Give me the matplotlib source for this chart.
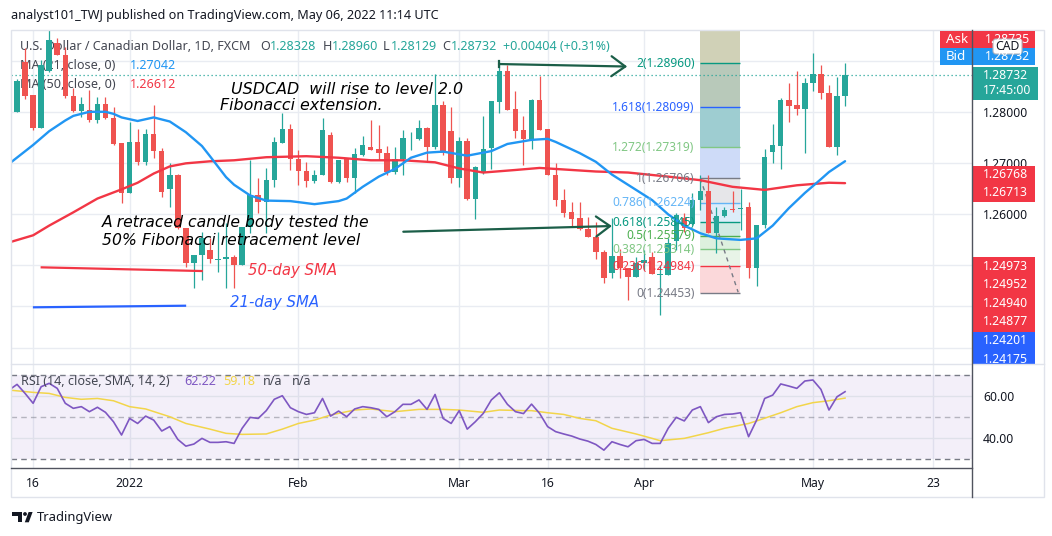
import matplotlib
matplotlib.use('Agg')
import matplotlib.pyplot as plt
import numpy as np
import pandas as pd
from matplotlib.patches import Rectangle, Polygon, FancyBboxPatch, Circle

# ---------------- data ----------------
dates = pd.bdate_range('2021-12-13', periods=105)

opens = [1.2730, 1.2801, 1.2898, 1.2834, 1.2770, 1.2881, 1.2936, 1.2912, 1.2831, 1.2802,
         1.2804, 1.2784, 1.2816, 1.2788, 1.2739, 1.2642, 1.2742, 1.2703, 1.2757, 1.2725,
         1.2649, 1.2677, 1.2573, 1.2505, 1.2520, 1.2531, 1.2511, 1.2512, 1.2517, 1.2501,
         1.2576, 1.2638, 1.2625, 1.2667, 1.2740, 1.2767, 1.2708, 1.2685, 1.2666, 1.2677,
         1.2755, 1.2664, 1.2710, 1.2671, 1.2716, 1.2732, 1.2728, 1.2720, 1.2683, 1.2708,
         1.2747, 1.2747, 1.2770, 1.2732, 1.2814, 1.2763, 1.2672, 1.2744, 1.2631, 1.2684,
         1.2731, 1.2821, 1.2881, 1.2806, 1.2765, 1.2747, 1.2824, 1.2767, 1.2678, 1.2629,
         1.2605, 1.2592, 1.2571, 1.2556, 1.2527, 1.2486, 1.2518, 1.2494, 1.2478, 1.2504,
         1.2516, 1.2482, 1.2481, 1.2547, 1.2592, 1.2582, 1.2628, 1.2646, 1.2563, 1.2597,
         1.2610, 1.2610, 1.2614, 1.2494, 1.2579, 1.2723, 1.2734, 1.2825, 1.2814, 1.2806,
         1.2857, 1.2875, 1.2837, 1.2732, 1.28328]
highs = [1.2822, 1.2865, 1.2926, 1.2834, 1.2902, 1.2965, 1.2945, 1.2928, 1.2848, 1.2830,
         1.2844, 1.2830, 1.2830, 1.2811, 1.2739, 1.2781, 1.2768, 1.2768, 1.2814, 1.2731,
         1.2700, 1.2679, 1.2573, 1.2520, 1.2566, 1.2553, 1.2566, 1.2583, 1.2520, 1.2576,
         1.2706, 1.2671, 1.2691, 1.2752, 1.2798, 1.2778, 1.2726, 1.2703, 1.2687, 1.2788,
         1.2762, 1.2706, 1.2710, 1.2731, 1.2753, 1.2785, 1.2775, 1.2734, 1.2732, 1.2765,
         1.2762, 1.2785, 1.2772, 1.2876, 1.2823, 1.2811, 1.2752, 1.2749, 1.2695, 1.2793,
         1.2823, 1.2899, 1.2893, 1.2842, 1.2793, 1.2827, 1.2871, 1.2767, 1.2700, 1.2649,
         1.2625, 1.2625, 1.2595, 1.2585, 1.2530, 1.2592, 1.2533, 1.2494, 1.2517, 1.2530,
         1.2527, 1.2501, 1.2553, 1.2603, 1.2602, 1.2641, 1.2677, 1.2677, 1.2615, 1.2615,
         1.2646, 1.2649, 1.2625, 1.2579, 1.2729, 1.2778, 1.2829, 1.2857, 1.2881, 1.2867,
         1.2916, 1.2893, 1.2853, 1.2870, 1.28960]
lows = [1.2726, 1.2800, 1.2827, 1.2765, 1.2769, 1.2879, 1.2912, 1.2828, 1.2800, 1.2791,
        1.2781, 1.2780, 1.2786, 1.2736, 1.2623, 1.2641, 1.2697, 1.2697, 1.2710, 1.2634,
        1.2615, 1.2571, 1.2497, 1.2455, 1.2471, 1.2504, 1.2487, 1.2455, 1.2455, 1.2501,
        1.2563, 1.2603, 1.2563, 1.2654, 1.2740, 1.2687, 1.2657, 1.2654, 1.2661, 1.2677,
        1.2661, 1.2661, 1.2664, 1.2641, 1.2714, 1.2726, 1.2706, 1.2677, 1.2680, 1.2677,
        1.2726, 1.2746, 1.2703, 1.2729, 1.2716, 1.2662, 1.2654, 1.2628, 1.2590, 1.2680,
        1.2688, 1.2798, 1.2804, 1.2749, 1.2697, 1.2729, 1.2765, 1.2677, 1.2616, 1.2595,
        1.2576, 1.2569, 1.2556, 1.2512, 1.2466, 1.2475, 1.2475, 1.2432, 1.2478, 1.2491,
        1.2484, 1.2403, 1.2481, 1.2530, 1.2566, 1.2579, 1.2608, 1.2563, 1.2524, 1.2594,
        1.2605, 1.2569, 1.2475, 1.2459, 1.2573, 1.2700, 1.2688, 1.2781, 1.2795, 1.2721,
        1.2842, 1.2826, 1.2732, 1.2716, 1.28129]
closes = [1.2800, 1.2862, 1.2832, 1.2769, 1.2893, 1.2942, 1.2912, 1.2831, 1.2802, 1.2816,
          1.2784, 1.2816, 1.2788, 1.2738, 1.2642, 1.2742, 1.2703, 1.2757, 1.2725, 1.2644,
          1.2677, 1.2573, 1.2505, 1.2520, 1.2553, 1.2512, 1.2512, 1.2516, 1.2501, 1.2575,
          1.2638, 1.2625, 1.2667, 1.2742, 1.2767, 1.2708, 1.2685, 1.2666, 1.2677, 1.2765,
          1.2664, 1.2706, 1.2671, 1.2718, 1.2736, 1.2726, 1.2720, 1.2683, 1.2708, 1.2749,
          1.2748, 1.2770, 1.2732, 1.2814, 1.2720, 1.2672, 1.2744, 1.2631, 1.2693, 1.2729,
          1.2823, 1.2881, 1.2804, 1.2764, 1.2747, 1.2824, 1.2765, 1.2677, 1.2628, 1.2603,
          1.2591, 1.2571, 1.2556, 1.2527, 1.2475, 1.2518, 1.2494, 1.2478, 1.2504, 1.2510,
          1.2484, 1.2483, 1.2543, 1.2599, 1.2573, 1.2628, 1.2646, 1.2563, 1.2597, 1.2608,
          1.2609, 1.2613, 1.2494, 1.2579, 1.2713, 1.2736, 1.2825, 1.2812, 1.2806, 1.2858,
          1.2875, 1.2837, 1.2732, 1.28328, 1.28732]

ma21_idx = [0, 3, 5, 7, 8, 10, 12, 13, 14, 16, 18, 20, 22, 24, 25, 27, 28, 30, 32, 35, 38,
            41, 42, 44, 46, 48, 50, 52, 54, 57, 60, 62, 65, 67, 68, 71, 73, 75, 77, 80, 82,
            84, 86, 88, 91, 93, 95, 97, 99, 101, 102, 104]
ma21_val = [1.2699, 1.2736, 1.2763, 1.2784, 1.2793, 1.2801, 1.2801, 1.2797, 1.2790, 1.2783,
            1.2790, 1.2782, 1.2761, 1.2734, 1.2714, 1.2673, 1.2658, 1.2637, 1.2627, 1.2626,
            1.2620, 1.2626, 1.2631, 1.2654, 1.2674, 1.2689, 1.2711, 1.2721, 1.2723, 1.2715,
            1.2724, 1.2738, 1.2746, 1.2748, 1.2742, 1.2720, 1.2703, 1.2678, 1.2658, 1.2628,
            1.2600, 1.2578, 1.2563, 1.2553, 1.2550, 1.2553, 1.2578, 1.2612, 1.2642, 1.2669,
            1.2683, 1.27042]
ma50_idx = [0, 3, 5, 8, 11, 14, 16, 18, 20, 22, 25, 28, 32, 37, 41, 45, 49, 53, 56, 59, 63,
            66, 69, 73, 77, 82, 86, 90, 94, 98, 102, 104]
ma50_val = [1.2545, 1.2559, 1.2578, 1.2604, 1.2631, 1.2649, 1.2662, 1.2680, 1.2694, 1.2700,
            1.2704, 1.2706, 1.2712, 1.2714, 1.2711, 1.2706, 1.2706, 1.2702, 1.2690, 1.2682,
            1.2687, 1.2691, 1.2688, 1.2684, 1.2682, 1.2674, 1.2667, 1.2654, 1.2648, 1.2657,
            1.2662, 1.26612]

rsi = [63.0, 65.7, 61.4, 56.7, 64.6, 66.2, 63.8, 56.7, 54.3, 55.1,
       52.7, 54.8, 52.4, 47.9, 41.6, 49.5, 47.1, 50.6, 48.7, 43.5,
       45.6, 39.5, 36.3, 37.3, 40.0, 38.1, 38.1, 38.4, 37.6, 44.8,
       50.0, 49.5, 53.2, 58.6, 60.3, 54.6, 52.7, 51.4, 52.2, 59.0,
       50.6, 53.0, 50.3, 54.0, 55.1, 54.6, 53.8, 50.3, 52.7, 56.2,
       56.2, 58.3, 53.8, 60.9, 49.5, 47.1, 53.2, 44.4, 47.9, 51.9,
       58.3, 61.7, 56.2, 52.7, 51.8, 56.3, 51.9, 45.6, 43.2, 42.1,
       41.1, 39.7, 38.7, 37.1, 34.4, 38.4, 37.1, 36.0, 38.9, 39.5,
       37.6, 37.6, 44.8, 50.0, 48.3, 53.5, 55.1, 47.5, 50.3, 51.4,
       51.6, 52.2, 40.8, 48.7, 59.0, 60.6, 65.9, 64.9, 63.8, 67.3,
       67.8, 63.3, 53.5, 59.8, 62.22]
rsi_sma_idx = [0, 3, 5, 7, 9, 11, 13, 15, 17, 20, 22, 25, 27, 29, 32, 34, 36, 38, 40, 43, 45,
               48, 51, 54, 56, 59, 61, 64, 65, 67, 69, 71, 73, 75, 78, 80, 81, 84, 87, 89, 92,
               93, 96, 98, 100, 102, 104]
rsi_sma_val = [63.0, 61.9, 61.4, 59.5, 58.6, 59.0, 57.9, 55.1, 54.0, 50.3, 47.1, 44.4, 42.4,
               41.9, 42.1, 44.4, 47.1, 48.7, 51.1, 53.5, 54.0, 52.7, 53.8, 53.8, 53.5, 52.4,
               53.5, 53.2, 53.2, 52.2, 51.4, 49.5, 48.4, 44.8, 42.1, 40.0, 38.9, 40.0, 42.7,
               44.8, 47.1, 48.3, 52.2, 55.1, 57.0, 57.9, 59.18]

fib_labels = ['0', '0.236', '0.382', '0.5', '0.618', '0.786', '1', '1.272', '1.618', '2']
fib_prices = [1.24453, 1.24984, 1.25314, 1.25579, 1.25845, 1.26224, 1.26706, 1.27319, 1.28099, 1.28960]
fib_colors = ['#787b86', '#f23645', '#81c784', '#4caf50', '#089981', '#64b5f6', '#787b86',
              '#81c784', '#2962ff', '#089981']
fib_fills = ['#fbd8da', '#e8f4e7', '#ddf0de', '#d0eae4', '#dcedfa', '#e6e6e9', '#cedbf8',
             '#9ecdd1', '#b8c9ba']
fib_top_fill = '#d0d1b7'

tick_pos = [3, 15, 36, 56, 67, 79, 100, 115]
tick_lab = ['16', '2022', 'Feb', 'Mar', '16', 'Apr', 'May', '23']
price_ticks = [1.26, 1.27, 1.28]
price_grid = [1.29, 1.28, 1.27, 1.26, 1.25, 1.2420, 1.2338]
last_close = 1.28732

# ---------------- figure ----------------
UI = 'Noto Sans'
plt.rcParams['font.family'] = [UI, 'DejaVu Sans']
W, H = 1052, 536
fig = plt.figure(figsize=(W / 100, H / 100), dpi=100)
fig.patch.set_facecolor('white')
renderer = fig.canvas.get_renderer()


def rect(x0, y0, x1, y1):
    return [x0 / W, 1 - y1 / H, (x1 - x0) / W, (y1 - y0) / H]


def size_for(s, width_px, **kw):
    t = fig.text(0, 0, s, fontsize=10, **kw)
    w = t.get_window_extent(renderer).width
    t.remove()
    return 10 * width_px / w


fs_header = size_for('analyst101_TWJ published on TradingView.com, May 06, 2022 11:14 UTC', 426)
fs_leg = size_for('U.S. Dollar / Canadian Dollar, 1D, FXCM', 230)
fs_fib = size_for('1.618(1.28099)', 82)
fs_axis = size_for('1.28000', 45)
fs_tv = size_for('TradingView', 76)
ITAL = dict(family=['DejaVu Sans'], style='italic')
fs_ann = size_for('A retraced candle body tested the', 268, **ITAL)
fs_ann2 = size_for('USDCAD  will rise to level 2.0', 232, **ITAL)
fs_sma = size_for('50-day SMA', 89, **ITAL)

ax = fig.add_axes(rect(11, 30, 972, 364))
axr = fig.add_axes(rect(11, 364, 972, 468))
ov = fig.add_axes([0, 0, 1, 1])
ov.set_xlim(0, W)
ov.set_ylim(H, 0)
ov.axis('off')
ov.set_zorder(10)
ov.patch.set_alpha(0)

XL = (0.249, 119.79)
grid_c = '#e9ecf2'
for a in (ax, axr):
    a.set_xlim(*XL)
    for s in a.spines.values():
        s.set_visible(False)
    for tp in tick_pos:
        a.axvline(tp, color=grid_c, lw=1, zorder=0)

# ---- price pane ----
ax.set_ylim(1.23068, 1.29613)
for g in price_grid:
    ax.axhline(g, color=grid_c, lw=1, zorder=0)

x = np.arange(len(opens))
o, h, l, c = (np.array(v) for v in (opens, highs, lows, closes))
up = c >= o
col = np.where(up, '#26a69a', '#ef5350')
ax.vlines(x, l, h, colors=col, lw=0.9, zorder=4)
ax.bar(x, np.maximum(np.abs(c - o), 0.00014), bottom=np.minimum(o, c), width=0.68,
       color=col, lw=0, zorder=5)

ax.plot(ma50_idx, ma50_val, color='#f23645', lw=1.7, zorder=6, solid_capstyle='round')
ax.plot(ma21_idx, ma21_val, color='#2196f3', lw=1.7, zorder=6, solid_capstyle='round')
ax.axhline(last_close, color='#26a69a', lw=0.9, ls=(0, (1, 2.2)), zorder=3)

# fib extension box
fx0, fx1 = 85.95, 90.93
for k in range(len(fib_prices) - 1):
    ax.add_patch(Rectangle((fx0, fib_prices[k]), fx1 - fx0, fib_prices[k + 1] - fib_prices[k],
                           fc=fib_fills[k], ec='none', zorder=1))
ax.add_patch(Rectangle((fx0, fib_prices[-1]), fx1 - fx0, 0.02, fc=fib_top_fill, ec='none', zorder=1))
for lab, p, colr in zip(fib_labels, fib_prices, fib_colors):
    ax.hlines(p, fx0, fx1, colors=colr, lw=1, zorder=2)
    ax.text(85.3, p, f'{lab}({p:.5f})', ha='right', va='center', color=colr,
            fontsize=fs_fib, zorder=7)
ax.plot([86.0, 90.7], [fib_prices[6], 1.24475], color='#787b86', lw=1, ls=(0, (3, 3)), zorder=2)

# annotations
arrow_c = '#1b5e48'
ap = dict(arrowstyle='->,head_length=1.0,head_width=0.72', color=arrow_c, lw=1.6,
          shrinkA=0, shrinkB=0)
ax.annotate('', xy=(76.9, 1.28897), xytext=(60.95, 1.28946), arrowprops=ap, zorder=8)
ax.plot([60.95, 60.95], [1.29004, 1.28887], color=arrow_c, lw=1.6, zorder=8)
ax.annotate('', xy=(75.0, 1.25772), xytext=(49.05, 1.25660), arrowprops=ap, zorder=8)

ax.plot([4.07, 23.97], [1.24962, 1.24890], color='#f23645', lw=1.6, zorder=8)
ax.plot([3.11, 21.9], [1.24179, 1.24210], color='#2962ff', lw=1.6, zorder=8)

ax.text(27.6, 1.28358, 'USDCAD  will rise to level 2.0', fontsize=fs_ann2, color='black',
        va='baseline', zorder=9, **ITAL)
ax.text(26.25, 1.28055, 'Fibonacci extension.', fontsize=fs_ann2, color='black',
        va='baseline', zorder=9, **ITAL)
ax.text(11.53, 1.25758, 'A retraced candle body tested the', fontsize=fs_ann, color='black',
        va='baseline', zorder=9, **ITAL)
ax.text(11.53, 1.25399, '50% Fibonacci retracement level', fontsize=fs_ann, color='black',
        va='baseline', zorder=9, **ITAL)
ax.text(29.7, 1.24909, '50-day SMA', fontsize=fs_sma, color='#f23645', va='center', zorder=9, **ITAL)
ax.text(27.5, 1.24269, '21-day SMA', fontsize=fs_sma, color='#2962ff', va='center', zorder=9, **ITAL)

ax.yaxis.tick_right()
ax.set_yticks(price_ticks)
ax.set_yticklabels([f'{v:.5f}' for v in price_ticks])
ax.tick_params(axis='y', length=0, pad=7.9, labelsize=fs_axis, labelcolor='#131722')
ax.tick_params(axis='x', bottom=False, labelbottom=False)

# ---- RSI pane ----
axr.set_ylim(25.9, 75.4)
axr.axhspan(30, 70, color='#7e57c2', alpha=0.09, lw=0, zorder=0)
for g in (60, 40):
    axr.axhline(g, color='#dfe1ea', lw=1, zorder=1)
axr.axhline(70, color='#787b86', lw=1, ls=(0, (4, 3)), zorder=2)
axr.axhline(30, color='#787b86', lw=1, ls=(0, (4, 3)), zorder=2)
axr.axhline(50, color='#787b86', lw=1, ls=(0, (4, 3)), alpha=0.5, zorder=2)
axr.plot(rsi_sma_idx, rsi_sma_val, color='#f2d54a', lw=1.1, zorder=3)
axr.plot(x, rsi, color='#7e57c2', lw=1.2, zorder=4)
axr.yaxis.tick_right()
axr.set_yticks([40, 60])
axr.set_yticklabels(['40.00', '60.00'])
axr.tick_params(axis='y', length=0, pad=7.9, labelsize=fs_axis, labelcolor='#131722')
axr.set_xticks(tick_pos)
axr.set_xticklabels(tick_lab)
axr.tick_params(axis='x', length=0, pad=6.5, labelsize=fs_axis, labelcolor='#131722')
for t in axr.get_xticklabels():
    if t.get_text() == '2022':
        t.set_fontweight('bold')

# ---- legends (drawn under the candles) ----
def ptext(xp, yp, s, colr, fs, **kw):
    ax.text(xp, yp, s, transform=ov.transData, color=colr, fontsize=fs, va='center',
            zorder=3, clip_on=False, **kw)

grey = '#434651'
teal = '#26a69a'
ptext(20, 46.7, 'U.S. Dollar / Canadian Dollar, 1D, FXCM', grey, fs_leg)
for xp, s, colr in [(260, 'O', grey), (269.5, '1.28328', teal), (322.5, 'H', grey),
                    (331.5, '1.28960', teal), (382.5, 'L', grey), (390.5, '1.28129', teal),
                    (442.5, 'C', grey), (450.5, '1.28732', teal), (502.7, '+0.00404 (+0.31%)', teal)]:
    ptext(xp, 46.7, s, colr, fs_leg)
ptext(20, 65.7, 'MA (21, close, 0)', grey, fs_leg)
ptext(130, 65.7, '1.27042', '#2196f3', fs_leg)
ptext(20, 84.3, 'MA (50, close, 0)', grey, fs_leg)
ptext(130, 84.3, '1.26612', '#f23645', fs_leg)

for xp, s, colr in [(20.7, 'RSI (14, close, SMA, 14, 2)', grey), (184, '62.22', '#7e57c2'),
                    (223, '59.18', '#f2d54a'), (263, 'n/a', grey), (292, 'n/a', grey)]:
    axr.text(xp, 381.7, s, transform=ov.transData, color=colr, fontsize=fs_leg,
             va='center', zorder=6, clip_on=False)

# ---- overlay: frame, axis lines, price labels, header, logo ----
ov.add_patch(Rectangle((11, 30), 1033, 467, fc='none', ec='#e0e3eb', lw=1))
ov.plot([11, 1044], [364, 364], color='#e0e3eb', lw=1)
ov.plot([972, 972], [30, 497], color='#50535e', lw=1)
ov.plot([11, 972], [468, 468], color='#50535e', lw=1)

ov.text(11, 16, 'analyst101_TWJ published on TradingView.com, May 06, 2022 11:14 UTC',
        fontsize=fs_header, color='#131722', va='center')


def box(x0, y0, w, hgt, colr):
    ov.add_patch(Rectangle((x0, y0), w, hgt, fc=colr, ec='none'))


box(940, 31, 95, 16.5, '#f23645')
box(940, 48, 95, 17, '#2196f3')
ov.text(946, 39.3, 'Ask', color='white', fontsize=fs_axis * 1.1, va='center')
ov.text(946, 56.5, 'Bid', color='white', fontsize=fs_axis * 1.1, va='center')
ov.text(1030, 39.3, '1.28735', color='white', fontsize=fs_axis, va='center', ha='right')
ov.text(1030, 56.5, '1.28732', color='white', fontsize=fs_axis, va='center', ha='right')
ov.add_patch(FancyBboxPatch((993, 39), 29, 15, boxstyle='round,pad=0,rounding_size=3',
                            fc='white', ec='#b2b5be', lw=0.8))
ov.text(1007.5, 46.8, 'CAD', color='#131722', fontsize=fs_axis, ha='center', va='center')

box(972, 67, 66, 33, '#26a69a')
ov.text(983, 75.8, '1.28732', color='white', fontsize=fs_axis, va='center')
ov.text(983, 90.5, '17:45:00', color='white', fontsize=fs_axis, va='center')

box(972, 165.5, 63, 36, '#f23645')
for yy, s in [(174.5, '1.26768'), (192.5, '1.26713')]:
    ov.text(983, yy, s, color='white', fontsize=fs_axis, va='center')
box(972, 257.3, 63, 74.5, '#f23645')
for yy, s in [(266.7, '1.24973'), (284.9, '1.24952'), (303.3, '1.24940'), (321.8, '1.24877')]:
    ov.text(983, yy, s, color='white', fontsize=fs_axis, va='center')
box(972, 331.8, 63, 32.2, '#2962ff')
for yy, s in [(341, '1.24201'), (359.5, '1.24175')]:
    ov.text(983, yy, s, color='white', fontsize=fs_axis, va='center')
ov.add_patch(Rectangle((972, 364), 72, 3, fc='white', ec='none'))

# TradingView logo
logo_c = '#131722'
ov.add_patch(Polygon([(12, 512), (22, 512), (22, 522.3), (18, 522.3), (18, 515.8), (12, 515.8)],
                     closed=True, fc=logo_c, ec='none'))
ov.add_patch(Circle((25.0, 514.0), 1.9, fc=logo_c, ec='none'))
ov.add_patch(Polygon([(24.8, 522.3), (28.6, 512), (32.6, 512), (28.8, 522.3)], closed=True,
                     fc=logo_c, ec='none'))
ov.text(37, 517, 'TradingView', color=logo_c, fontsize=fs_tv, va='center')

fig.savefig('out.png', dpi=100)
